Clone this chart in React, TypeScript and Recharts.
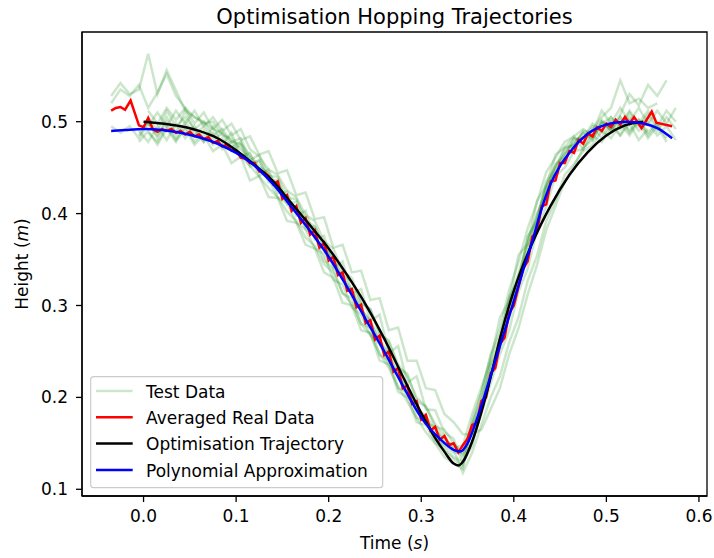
import { LineChart, Line, XAxis, YAxis, ReferenceArea } from "recharts";

const FONT = "'DejaVu Sans', sans-serif";

// sample times shared by the recorded test hops (s)
const testTime = [
  -0.035, -0.025, -0.015, -0.005, 0.005, 0.015, 0.025, 0.035, 0.045, 0.055,
  0.065, 0.075, 0.085, 0.095, 0.105, 0.115, 0.125, 0.135, 0.145, 0.155,
  0.165, 0.175, 0.185, 0.195, 0.205, 0.215, 0.225, 0.235, 0.245, 0.255,
  0.265, 0.275, 0.285, 0.295, 0.305, 0.315, 0.325, 0.335, 0.345, 0.355,
  0.365, 0.375, 0.385, 0.395, 0.405, 0.415, 0.425, 0.435, 0.445, 0.455,
  0.465, 0.475, 0.485, 0.495, 0.505, 0.515, 0.525, 0.535, 0.545, 0.555,
  0.565, 0.575,
];

// measured heights per hop (m), null where the run wasn't recording
const testRuns: (number | null)[][] = [
  [0.528, 0.542, 0.530, 0.535, 0.574, 0.530, 0.556, 0.534, 0.512, 0.505, 0.500, 0.492, 0.488, 0.478, 0.476, 0.464, 0.451, 0.444, 0.430, 0.417, 0.404, 0.388, 0.376, 0.360, 0.346, 0.328, 0.316, 0.296, 0.283, 0.262, 0.248, 0.226, 0.210, 0.188, 0.180, 0.164, 0.155, 0.145, 0.148, 0.182, 0.211, 0.240, 0.287, 0.305, 0.355, 0.367, 0.414, 0.430, 0.464, 0.472, 0.484, 0.470, 0.492, 0.505, 0.515, 0.545, 0.520, 0.525, 0.515, 0.520, null, null],
  [0.520, 0.535, 0.528, 0.540, 0.515, 0.532, 0.552, 0.528, 0.515, 0.505, 0.498, 0.500, 0.485, 0.482, 0.470, 0.461, 0.446, 0.438, 0.417, 0.412, 0.390, 0.383, 0.362, 0.356, 0.328, 0.323, 0.298, 0.290, 0.268, 0.258, 0.236, 0.223, 0.200, 0.193, 0.172, 0.168, 0.150, 0.150, 0.135, 0.162, 0.197, 0.230, 0.260, 0.297, 0.325, 0.364, 0.390, 0.428, 0.446, 0.465, 0.476, 0.488, 0.480, 0.500, 0.492, 0.508, 0.530, 0.518, 0.540, 0.528, 0.545, null],
  [null, null, null, 0.485, 0.500, 0.482, 0.505, 0.488, 0.512, 0.490, 0.478, 0.495, 0.475, 0.488, 0.462, 0.466, 0.441, 0.448, 0.422, 0.424, 0.398, 0.403, 0.372, 0.376, 0.340, 0.348, 0.313, 0.318, 0.283, 0.290, 0.248, 0.256, 0.216, 0.223, 0.187, 0.186, 0.162, 0.155, 0.128, 0.152, 0.183, 0.215, 0.247, 0.273, 0.315, 0.340, 0.382, 0.408, 0.441, 0.450, 0.468, 0.470, 0.485, 0.478, 0.495, 0.485, 0.505, 0.490, 0.500, 0.485, 0.495, 0.480],
  [null, null, null, 0.478, 0.490, 0.475, 0.492, 0.478, 0.495, 0.478, 0.490, 0.475, 0.482, 0.468, 0.475, 0.451, 0.458, 0.434, 0.437, 0.410, 0.413, 0.386, 0.386, 0.364, 0.353, 0.333, 0.326, 0.303, 0.296, 0.270, 0.260, 0.236, 0.223, 0.200, 0.190, 0.171, 0.158, 0.143, 0.118, 0.140, 0.170, 0.200, 0.223, 0.260, 0.287, 0.327, 0.354, 0.392, 0.414, 0.442, 0.454, 0.468, 0.475, 0.490, 0.482, 0.498, 0.485, 0.500, 0.482, 0.495, 0.478, null],
  [null, null, null, null, 0.495, 0.510, 0.495, 0.512, 0.498, 0.512, 0.495, 0.505, 0.490, 0.498, 0.480, 0.484, 0.464, 0.468, 0.444, 0.447, 0.420, 0.423, 0.394, 0.396, 0.363, 0.366, 0.336, 0.338, 0.306, 0.308, 0.273, 0.276, 0.240, 0.240, 0.210, 0.208, 0.182, 0.173, 0.160, 0.160, 0.165, 0.187, 0.210, 0.247, 0.275, 0.312, 0.344, 0.382, 0.408, 0.435, 0.451, 0.472, 0.480, 0.498, 0.505, 0.495, 0.512, 0.498, 0.512, 0.495, 0.512, 0.500],
  [null, null, null, null, 0.488, 0.478, 0.495, 0.480, 0.492, 0.475, 0.485, 0.468, 0.475, 0.455, 0.462, 0.436, 0.441, 0.418, 0.417, 0.392, 0.390, 0.366, 0.362, 0.336, 0.330, 0.303, 0.300, 0.273, 0.270, 0.240, 0.236, 0.206, 0.200, 0.173, 0.170, 0.151, 0.142, 0.133, 0.125, 0.170, 0.205, 0.247, 0.275, 0.317, 0.347, 0.384, 0.412, 0.445, 0.461, 0.478, 0.484, 0.492, 0.485, 0.502, 0.490, 0.505, 0.490, 0.502, 0.488, 0.500, null, null],
  [null, null, null, null, 0.505, 0.490, 0.512, 0.495, 0.505, 0.492, 0.500, 0.485, 0.492, 0.478, 0.482, 0.458, 0.464, 0.441, 0.440, 0.417, 0.416, 0.393, 0.386, 0.364, 0.350, 0.330, 0.318, 0.296, 0.283, 0.260, 0.246, 0.223, 0.210, 0.188, 0.177, 0.158, 0.145, 0.135, 0.130, 0.147, 0.190, 0.223, 0.263, 0.287, 0.333, 0.357, 0.400, 0.422, 0.454, 0.462, 0.481, 0.482, 0.498, 0.488, 0.505, 0.492, 0.510, 0.495, 0.508, 0.490, 0.505, 0.492],
  [0.495, 0.488, 0.495, 0.482, 0.498, 0.485, 0.500, 0.482, 0.500, 0.485, 0.495, 0.480, 0.488, 0.472, 0.478, 0.454, 0.458, 0.438, 0.432, 0.412, 0.406, 0.383, 0.376, 0.349, 0.340, 0.313, 0.308, 0.280, 0.276, 0.246, 0.240, 0.210, 0.206, 0.178, 0.174, 0.154, 0.148, 0.140, 0.140, 0.172, 0.195, 0.235, 0.253, 0.307, 0.323, 0.374, 0.394, 0.435, 0.451, 0.472, 0.474, 0.490, 0.488, 0.512, 0.498, 0.515, 0.500, 0.515, 0.498, 0.512, 0.498, 0.515],
  [null, null, null, null, 0.512, 0.498, 0.515, 0.502, 0.515, 0.498, 0.510, 0.492, 0.502, 0.485, 0.492, 0.470, 0.462, 0.448, 0.442, 0.425, 0.418, 0.398, 0.392, 0.370, 0.362, 0.338, 0.330, 0.302, 0.296, 0.268, 0.262, 0.232, 0.226, 0.196, 0.190, 0.168, 0.165, 0.150, 0.138, 0.168, 0.188, 0.238, 0.262, 0.310, 0.328, 0.375, 0.392, 0.432, 0.448, 0.470, 0.476, 0.488, 0.482, 0.500, 0.490, 0.505, 0.488, 0.502, 0.485, 0.498, 0.482, null],
  [null, null, null, 0.490, 0.478, 0.495, 0.480, 0.498, 0.482, 0.495, 0.478, 0.488, 0.470, 0.478, 0.462, 0.452, 0.440, 0.428, 0.418, 0.402, 0.392, 0.374, 0.365, 0.345, 0.336, 0.314, 0.302, 0.280, 0.268, 0.248, 0.232, 0.212, 0.195, 0.178, 0.162, 0.150, 0.135, 0.128, 0.122, 0.175, 0.205, 0.245, 0.268, 0.305, 0.335, 0.368, 0.398, 0.428, 0.452, 0.465, 0.482, 0.480, 0.495, 0.482, 0.500, 0.485, 0.498, 0.480, 0.492, null, null, null],
];

// averaged real data
const avgTime = [
  -0.035, -0.03, -0.025, -0.02, -0.014, -0.005, 0, 0.005, 0.01, 0.015,
  0.02, 0.025, 0.03, 0.035, 0.04, 0.045, 0.05, 0.055, 0.06, 0.065,
  0.07, 0.075, 0.08, 0.085, 0.09, 0.095, 0.1, 0.105, 0.11, 0.115,
  0.12, 0.125, 0.13, 0.135, 0.14, 0.145, 0.15, 0.155, 0.16, 0.165,
  0.17, 0.175, 0.18, 0.185, 0.19, 0.195, 0.2, 0.205, 0.21, 0.215,
  0.22, 0.225, 0.23, 0.235, 0.24, 0.245, 0.25, 0.255, 0.26, 0.265,
  0.27, 0.275, 0.28, 0.285, 0.29, 0.295, 0.3, 0.305, 0.31, 0.315,
  0.32, 0.325, 0.33, 0.335, 0.34, 0.345, 0.35, 0.355, 0.36, 0.365,
  0.37, 0.375, 0.38, 0.385, 0.39, 0.395, 0.4, 0.405, 0.41, 0.415,
  0.42, 0.425, 0.43, 0.435, 0.44, 0.445, 0.45, 0.455, 0.46, 0.465,
  0.47, 0.475, 0.48, 0.485, 0.49, 0.495, 0.5, 0.505, 0.51, 0.515,
  0.52, 0.525, 0.53, 0.538, 0.549, 0.554, 0.571,
];
const avgHeight = [
  0.512, 0.515, 0.516, 0.513, 0.523, 0.496, 0.494, 0.504, 0.492, 0.489,
  0.492, 0.490, 0.492, 0.488, 0.490, 0.486, 0.489, 0.484, 0.486, 0.481,
  0.483, 0.477, 0.479, 0.473, 0.475, 0.469, 0.469, 0.461, 0.460, 0.455,
  0.455, 0.446, 0.445, 0.441, 0.432, 0.435, 0.416, 0.420, 0.403, 0.408,
  0.390, 0.395, 0.377, 0.382, 0.363, 0.368, 0.349, 0.353, 0.333, 0.336,
  0.316, 0.318, 0.298, 0.301, 0.281, 0.284, 0.263, 0.267, 0.246, 0.250,
  0.228, 0.232, 0.210, 0.213, 0.193, 0.196, 0.176, 0.181, 0.164, 0.168,
  0.154, 0.158, 0.148, 0.150, 0.140, 0.148, 0.155, 0.170, 0.172, 0.196,
  0.200, 0.226, 0.232, 0.258, 0.265, 0.292, 0.300, 0.320, 0.340, 0.348,
  0.375, 0.380, 0.408, 0.410, 0.435, 0.436, 0.455, 0.455, 0.468, 0.466,
  0.480, 0.476, 0.487, 0.484, 0.494, 0.490, 0.498, 0.494, 0.502, 0.497,
  0.505, 0.498, 0.505, 0.493, 0.511, 0.499, 0.495,
];

// optimised hop trajectory
const optTime = [
  0, 0.02, 0.04, 0.06, 0.08, 0.1, 0.12, 0.14, 0.16, 0.18, 0.2, 0.22, 0.24,
  0.26, 0.28, 0.3, 0.315, 0.325, 0.335, 0.34, 0.345, 0.355, 0.365, 0.375,
  0.385, 0.4, 0.42, 0.44, 0.46, 0.48, 0.5, 0.52, 0.54,
];
const optHeight = [
  0.5, 0.498, 0.495, 0.49, 0.482, 0.469, 0.453, 0.435, 0.411, 0.387, 0.362,
  0.333, 0.301, 0.264, 0.223, 0.183, 0.156, 0.141, 0.128, 0.126, 0.13, 0.152,
  0.184, 0.222, 0.264, 0.316, 0.368, 0.409, 0.442, 0.467, 0.485, 0.496, 0.5,
];

// polynomial fit
const polyTime = [
  -0.035, -0.02, 0, 0.02, 0.04, 0.06, 0.08, 0.1, 0.12, 0.14, 0.16, 0.18, 0.2,
  0.22, 0.24, 0.26, 0.28, 0.3, 0.32, 0.335, 0.342, 0.35, 0.36, 0.37, 0.38,
  0.39, 0.4, 0.41, 0.42, 0.43, 0.44, 0.45, 0.46, 0.47, 0.48, 0.49, 0.5, 0.52,
  0.54, 0.555, 0.571,
];
const polyHeight = [
  0.49, 0.491, 0.492, 0.491, 0.488, 0.483, 0.476, 0.466, 0.452, 0.432, 0.407,
  0.381, 0.353, 0.32, 0.285, 0.25, 0.213, 0.178, 0.155, 0.143, 0.141, 0.15,
  0.176, 0.207, 0.24, 0.272, 0.305, 0.338, 0.37, 0.405, 0.433, 0.452, 0.466,
  0.478, 0.487, 0.493, 0.497, 0.5, 0.498, 0.493, 0.482,
];

const xTicks = [0, 0.1, 0.2, 0.3, 0.4, 0.5, 0.6];
const yTicks = [0.1, 0.2, 0.3, 0.4, 0.5];
const xDomain: [number, number] = [-0.0665, 0.6087];
const yDomain: [number, number] = [0.0927, 0.5976];

const legendItems = [
  { label: "Test Data", color: "#008000", opacity: 0.2 },
  { label: "Averaged Real Data", color: "#ff0000", opacity: 1 },
  { label: "Optimisation Trajectory", color: "#000000", opacity: 1 },
  { label: "Polynomial Approximation", color: "#0000ff", opacity: 1 },
];

const toPoints = (ts: number[], hs: (number | null)[]) =>
  ts
    .map((t, i) => ({ t, h: hs[i] }))
    .filter((p) => p.h !== null && p.h !== undefined);

const tickStyle = { fill: "#000", fontSize: 17, fontFamily: FONT };

export default function App() {
  const W = 714;
  const H = 558;
  return (
    <div style={{ position: "absolute", left: 0, top: 0, width: W, height: H, background: "#fff" }}>
      <LineChart width={W} height={H} margin={{ top: 32, right: 7, bottom: 0, left: 0 }}>
        <XAxis
          dataKey="t"
          type="number"
          domain={xDomain}
          allowDataOverflow
          ticks={xTicks}
          tickFormatter={(v: number) => v.toFixed(1)}
          tick={tickStyle}
          tickSize={6}
          tickMargin={8}
          height={62}
          stroke="#000"
          strokeWidth={1.3}
        />
        <YAxis
          type="number"
          domain={yDomain}
          allowDataOverflow
          ticks={yTicks}
          tickFormatter={(v: number) => v.toFixed(1)}
          tick={tickStyle}
          tickSize={6}
          tickMargin={8}
          width={82}
          stroke="#000"
          strokeWidth={1.3}
        />
        {testRuns.map((run, i) => (
          <Line
            key={`run-${i}`}
            data={toPoints(testTime, run)}
            dataKey="h"
            type="linear"
            stroke="#008000"
            strokeOpacity={0.2}
            strokeWidth={2.5}
            dot={false}
            isAnimationActive={false}
          />
        ))}
        <Line
          data={toPoints(avgTime, avgHeight)}
          dataKey="h"
          type="linear"
          stroke="#ff0000"
          strokeWidth={2.5}
          dot={false}
          isAnimationActive={false}
        />
        <Line
          data={toPoints(optTime, optHeight)}
          dataKey="h"
          type="monotone"
          stroke="#000000"
          strokeWidth={2.5}
          dot={false}
          isAnimationActive={false}
        />
        <Line
          data={toPoints(polyTime, polyHeight)}
          dataKey="h"
          type="monotone"
          stroke="#0000ff"
          strokeWidth={2.5}
          dot={false}
          isAnimationActive={false}
        />
        <ReferenceArea
          x1={xDomain[0]}
          x2={xDomain[1]}
          y1={yDomain[0]}
          y2={yDomain[1]}
          fill="none"
          stroke="#000"
          strokeWidth={1.3}
        />
      </LineChart>

      <svg
        width={W}
        height={H}
        style={{ position: "absolute", left: 0, top: 0, pointerEvents: "none" }}
        fontFamily={FONT}
      >
        <text x={394.5} y={23.5} fontSize={21} textAnchor="middle" fill="#000">
          Optimisation Hopping Trajectories
        </text>
        <text x={394.5} y={549} fontSize={17} textAnchor="middle" fill="#000">
          Time (<tspan fontStyle="italic">s</tspan>)
        </text>
        <text
          transform="translate(28, 264) rotate(-90)"
          fontSize={17}
          textAnchor="middle"
          fill="#000"
        >
          Height (<tspan fontStyle="italic">m</tspan>)
        </text>

        <rect
          x={90.7}
          y={376.7}
          width={292}
          height={111}
          rx={3}
          fill="#fff"
          fillOpacity={0.8}
          stroke="#cccccc"
          strokeWidth={1.2}
        />
        {legendItems.map((item, i) => {
          const cy = 391 + i * 26.3;
          return (
            <g key={item.label}>
              <line
                x1={96}
                x2={132.7}
                y1={cy}
                y2={cy}
                stroke={item.color}
                strokeOpacity={item.opacity}
                strokeWidth={2.5}
              />
              <text x={146} y={cy + 6.7} fontSize={17} fill="#000">
                {item.label}
              </text>
            </g>
          );
        })}
      </svg>
    </div>
  );
}
